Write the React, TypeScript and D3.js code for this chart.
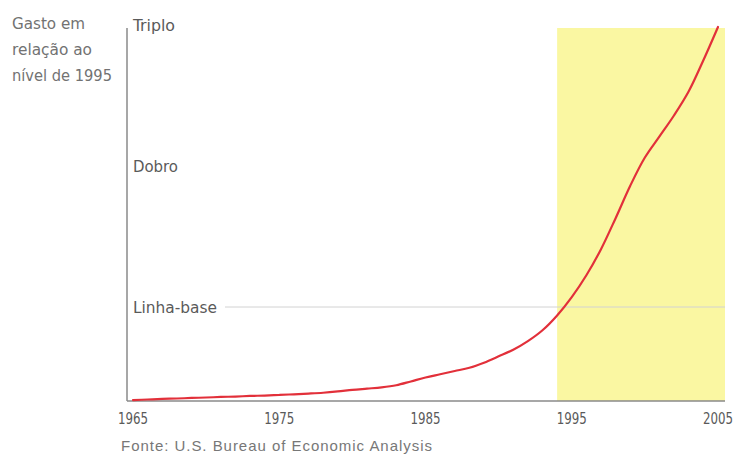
import React, { useEffect, useRef } from "react";
import * as d3 from "d3";

// gasto em relação ao nível de 1995 (1995 = 1)
const years = [
  1965, 1966, 1967, 1968, 1969, 1970, 1971, 1972, 1973, 1974, 1975, 1976, 1977, 1978, 1979, 1980, 1981,
  1982, 1983, 1984, 1985, 1986, 1987, 1988, 1989, 1990, 1991, 1992, 1993, 1994, 1995, 1996, 1997, 1998,
  1999, 2000, 2001, 2002, 2003, 2004, 2005,
];
const spending = [
  0.34, 0.344, 0.348, 0.351, 0.355, 0.358, 0.362, 0.365, 0.369, 0.372, 0.376, 0.381, 0.386, 0.392, 0.401,
  0.412, 0.421, 0.43, 0.445, 0.472, 0.5, 0.523, 0.546, 0.569, 0.605, 0.65, 0.697, 0.758, 0.835, 0.94,
  1.07, 1.225, 1.41, 1.63, 1.86, 2.06, 2.21, 2.36, 2.53, 2.75, 2.986,
];
const tickYears = [1965, 1975, 1985, 1995, 2005];
const levels = [1, 2, 3];
const levelLabels = ["Linha-base", "Dobro", "Triplo"];
const highlight = [1994, 2005.5];
const titleLines = ["Gasto em", "relação ao", "nível de 1995"];
const source = "Fonte: U.S. Bureau of Economic Analysis";

const App = () => {
  const chartRef = useRef(null);

  useEffect(() => {
    const svg = d3.select(chartRef.current);
    svg.selectAll("*").remove();

    const width = 736;
    const height = 459;
    const axisX = 127;
    const axisTop = 28;
    const axisBottom = 401;
    const axisRight = 725;
    const font = "'DejaVu Sans Condensed', 'DejaVu Sans', sans-serif";

    svg.attr("width", width).attr("height", height);

    const x = d3.scaleLinear().domain([1965, 2005]).range([133, 718]);
    const y = d3.scaleLinear().domain([1, 3]).range([307, 25]);

    // faixa amarela
    svg.append("rect")
      .attr("x", x(highlight[0]))
      .attr("y", axisTop)
      .attr("width", Math.min(x(highlight[1]), axisRight) - x(highlight[0]))
      .attr("height", axisBottom - axisTop)
      .attr("fill", "#faf7a2");

    // linha-base
    svg.append("line")
      .attr("x1", 225)
      .attr("x2", axisRight)
      .attr("y1", y(1))
      .attr("y2", y(1))
      .attr("stroke", "#d2d2d2")
      .attr("stroke-width", 1);

    // eixos
    svg.append("line")
      .attr("x1", axisX).attr("x2", axisX)
      .attr("y1", axisTop).attr("y2", axisBottom)
      .attr("stroke", "#8a8a8a").attr("stroke-width", 1.5);
    svg.append("line")
      .attr("x1", axisX).attr("x2", axisRight)
      .attr("y1", axisBottom).attr("y2", axisBottom)
      .attr("stroke", "#8a8a8a").attr("stroke-width", 1.5);

    const condensed = (sel, len) =>
      sel.attr("font-family", font)
        .attr("font-stretch", "condensed")
        .attr("font-size", 16)
        .attr("textLength", len)
        .attr("lengthAdjust", "spacingAndGlyphs");

    // rótulos dos níveis
    const levelWidths = [84, 45, 42];
    svg.selectAll(".level")
      .data(levels)
      .enter()
      .append("text")
      .attr("class", "level")
      .attr("x", 133)
      .attr("y", (d) => y(d) + 6)
      .attr("fill", "#5a5a5a")
      .call((s) => s.each(function (d, i) {
        condensed(d3.select(this), levelWidths[i]);
      }))
      .text((d, i) => levelLabels[i]);

    // anos
    svg.selectAll(".tick")
      .data(tickYears)
      .enter()
      .append("text")
      .attr("class", "tick")
      .attr("x", (d) => x(d))
      .attr("y", 424)
      .attr("text-anchor", "middle")
      .attr("fill", "#5a5a5a")
      .call((s) => condensed(s, 30))
      .text((d) => d);

    // curva
    const data = years.map((yr, i) => ({ year: yr, value: spending[i] }));
    const line = d3.line()
      .x((d) => x(d.year))
      .y((d) => y(d.value))
      .curve(d3.curveCatmullRom.alpha(0.5));

    svg.append("path")
      .datum(data)
      .attr("d", line)
      .attr("fill", "none")
      .attr("stroke", "#e2303a")
      .attr("stroke-width", 2.2)
      .attr("stroke-linecap", "round");

    // título do eixo
    const titleWidths = [73, 80, 100];
    svg.selectAll(".title")
      .data(titleLines)
      .enter()
      .append("text")
      .attr("class", "title")
      .attr("x", 12)
      .attr("y", (d, i) => 29 + i * 26)
      .attr("fill", "#727272")
      .call((s) => s.each(function (d, i) {
        condensed(d3.select(this), titleWidths[i]);
      }))
      .text((d) => d);

    // fonte
    svg.append("text")
      .attr("x", 121)
      .attr("y", 451)
      .attr("font-family", "'Liberation Sans', Arial, sans-serif")
      .attr("font-size", 15)
      .attr("textLength", 311)
      .attr("lengthAdjust", "spacing")
      .attr("fill", "#777")
      .text(source);
  }, []);

  return (
    <svg ref={chartRef} style={{ position: "absolute", left: 0, top: 0, background: "#fff" }}></svg>
  );
};

export default App;
